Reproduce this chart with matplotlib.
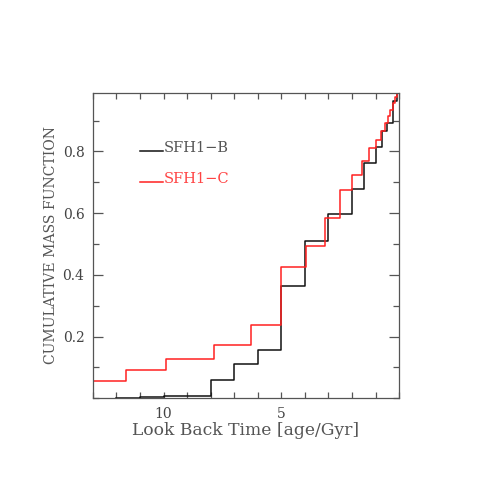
import matplotlib
matplotlib.use('Agg')
import matplotlib.pyplot as plt
from matplotlib.ticker import FixedLocator, MultipleLocator

# SFH1-B: bin edges in look back time (Gyr, from old to young) and cumulative mass
b_edges = [12.0, 11.0, 10.0, 9.0, 8.0, 7.0, 6.0, 5.0, 4.0, 3.0, 2.0, 1.5,
           1.0, 0.75, 0.5, 0.28, 0.1, 0.0]
b_cmf = [0.002, 0.005, 0.007, 0.008, 0.059, 0.110, 0.157, 0.364, 0.510,
         0.598, 0.679, 0.762, 0.815, 0.867, 0.891, 0.964, 0.990]

# SFH1-C
c_edges = [13.5, 11.6, 9.9, 7.85, 6.28, 5.0, 3.97, 3.13, 2.5, 2.0, 1.57,
           1.27, 1.0, 0.78, 0.62, 0.49, 0.38, 0.27, 0.17, 0.1, 0.0]
c_cmf = [0.056, 0.092, 0.127, 0.174, 0.236, 0.425, 0.493, 0.585, 0.675,
         0.723, 0.770, 0.811, 0.837, 0.866, 0.892, 0.915, 0.935, 0.958,
         0.977, 0.990]

x_ticks = [10, 5]
y_ticks = [0.2, 0.4, 0.6, 0.8]

GREY = '#555555'
plt.rcParams['font.family'] = 'DejaVu Serif'

fig = plt.figure(figsize=(4.91, 4.91), dpi=100)
ax = fig.add_axes([0.189, 0.189, 0.624, 0.622])

ax.step(b_edges, b_cmf + [b_cmf[-1]], where='post', color='#111111', lw=1.1)
ax.step(c_edges, c_cmf + [c_cmf[-1]], where='post', color='#ff2020', lw=1.1)

ax.set_xlim(13.0, 0.0)
ax.set_ylim(0.0, 0.99)

ax.xaxis.set_major_locator(FixedLocator(x_ticks))
ax.xaxis.set_minor_locator(MultipleLocator(1))
ax.yaxis.set_major_locator(FixedLocator(y_ticks))
ax.yaxis.set_minor_locator(MultipleLocator(0.1))

ax.tick_params(which='both', direction='in', top=True, right=True,
               color=GREY, width=0.9, labelcolor='#444444', labelsize=10)
ax.tick_params(axis='x', which='both', length=4, pad=6)
ax.tick_params(axis='y', which='major', length=7.5, pad=6)
ax.tick_params(axis='y', which='minor', length=4)
for sp in ax.spines.values():
    sp.set_color(GREY)
    sp.set_linewidth(0.9)

ax.set_xlabel('Look Back Time [age/Gyr]', color=GREY, fontsize=12.3, labelpad=1)
ax.set_ylabel('CUMULATIVE MASS FUNCTION', color=GREY, fontsize=10.1, labelpad=3)

# hand made legend
ax.plot([0.154, 0.230], [0.809, 0.809], transform=ax.transAxes, color='#111111', lw=1.1)
ax.text(0.232, 0.806, 'SFH1\u2212B', transform=ax.transAxes, color=GREY,
        fontsize=10.5, va='baseline')
ax.plot([0.154, 0.230], [0.708, 0.708], transform=ax.transAxes, color='#ff2020', lw=1.1)
ax.text(0.232, 0.705, 'SFH1\u2212C', transform=ax.transAxes, color='#ff4444',
        fontsize=10.5, va='baseline')

fig.savefig('out.png', dpi=100)
